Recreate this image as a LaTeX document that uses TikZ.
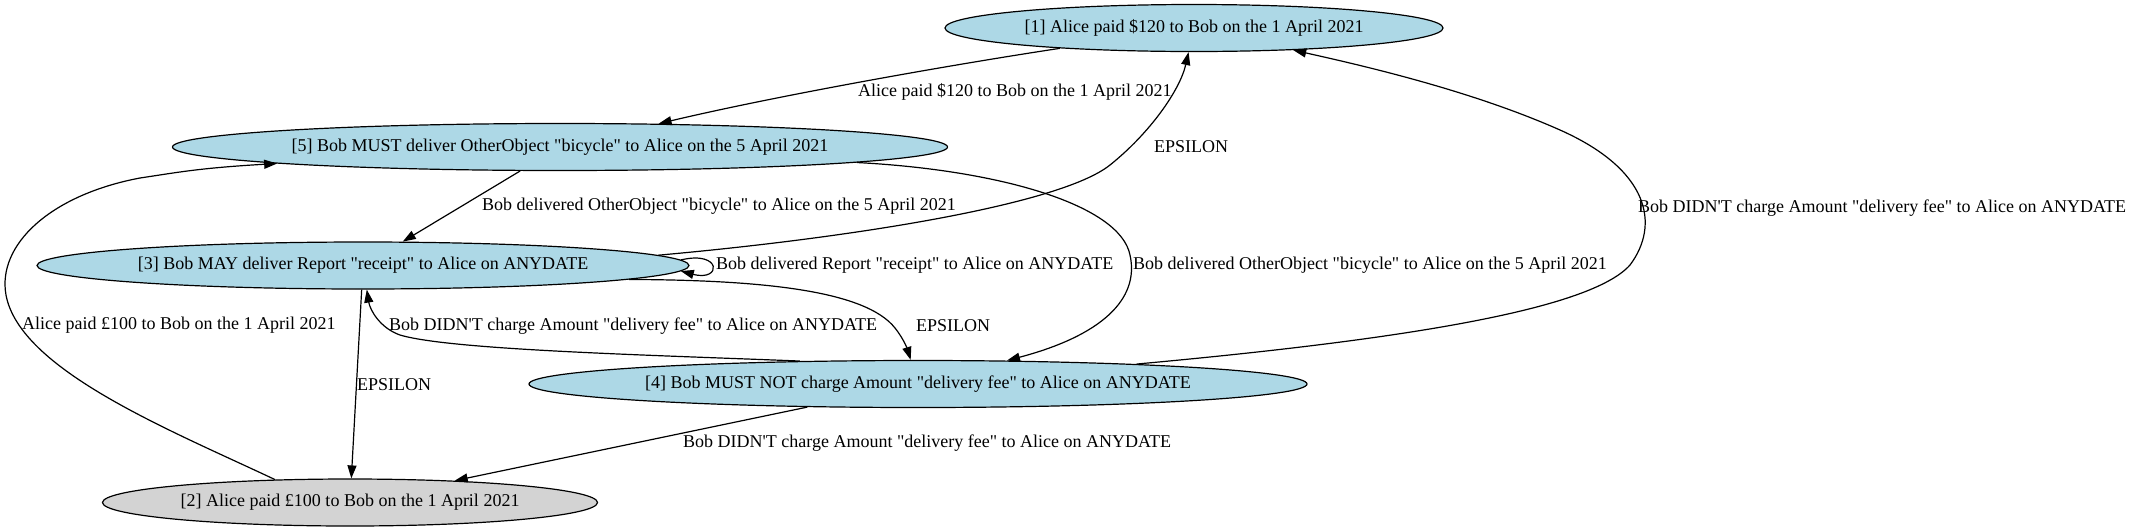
\documentclass[tikz,border=0pt]{standalone}
\usetikzlibrary{arrows.meta,shapes.geometric}
\font\gvf="Liberation Serif" at 18pt
\definecolor{nodeblue}{HTML}{ADD8E6}
\definecolor{nodegray}{HTML}{D3D3D3}
\begin{document}
\begin{tikzpicture}[x=1pt,y=-1pt,
  every node/.style={font=\gvf},
  state/.style={ellipse, draw=black, line width=1.2pt, inner sep=0pt, minimum height=47pt},
  lab/.style={anchor=west, inner sep=0pt},
  arr/.style={-{Triangle[length=13pt,width=9pt]}, line width=1.2pt}]
\useasboundingbox (0,0) rectangle (2134,531);
% nodes
\node[state, fill=nodeblue, minimum width=498pt] (N1) at (1194,28) {[1] Alice paid \$120 to Bob on the 1 April 2021};
\node[state, fill=nodeblue, minimum width=775pt] (N5) at (560,147) {[5] Bob MUST deliver OtherObject "bicycle" to Alice on the 5 April 2021};
\node[state, fill=nodeblue, minimum width=652pt] (N3) at (363,265.5) {[3] Bob MAY deliver Report "receipt" to Alice on ANYDATE};
\node[state, fill=nodeblue, minimum width=778pt] (N4) at (918,384) {[4] Bob MUST NOT charge Amount "delivery fee" to Alice on ANYDATE};
\node[state, fill=nodegray, minimum width=495pt] (N2) at (350,502.5) {[2] Alice paid £100 to Bob on the 1 April 2021};
% edge labels
\node[lab] (L1) at (858,92) {Alice paid \$120 to Bob on the 1 April 2021};
\node[lab] (L2) at (1154,147) {EPSILON};
\node[lab] (L3) at (482,206) {Bob delivered OtherObject "bicycle" to Alice on the 5 April 2021};
\node[lab] (L4) at (716,265) {Bob delivered Report "receipt" to Alice on ANYDATE};
\node[lab] (L5) at (1133,265) {Bob delivered OtherObject "bicycle" to Alice on the 5 April 2021};
\node[lab] (L6) at (1638,208) {Bob DIDN'T charge Amount "delivery fee" to Alice on ANYDATE};
\node[lab] (L7) at (389,326) {Bob DIDN'T charge Amount "delivery fee" to Alice on ANYDATE};
\node[lab] (L8) at (916,326) {EPSILON};
\node[lab] (L9) at (22,325) {Alice paid £100 to Bob on the 1 April 2021};
\node[lab] (L10) at (357,385) {EPSILON};
\node[lab] (L11) at (683,443) {Bob DIDN'T charge Amount "delivery fee" to Alice on ANYDATE};
% edges
\draw[arr] (N1) .. controls (950,65) and (780,95) .. (N5);
\draw[arr] (N3.2) .. controls (850,238) and (1060,205) .. (1110,165) .. controls (1150,133) and (1180,90) .. (N1);
\draw[arr] (N5) -- (N3);
\draw[arr] (N3.1) .. controls (722,250) and (722,282) .. (N3.-1);
\draw[arr] (N5) .. controls (1000,170) and (1120,205) .. (1130,255) .. controls (1140,300) and (1100,336) .. (N4);
\draw[arr] (N4) .. controls (1400,340) and (1590,310) .. (1630,265) .. controls (1660,225) and (1650,170) .. (1560,130) .. controls (1470,90) and (1360,65) .. (N1);
\draw[arr] (N4.169) .. controls (650,355) and (450,350) .. (400,335) .. controls (380,328) and (370,310) .. (N3);
\draw[arr] (N3) -- (N2);
\draw[arr] (N3.-3) .. controls (760,280) and (865,290) .. (895,328) .. controls (903,338) and (907,348) .. (N4);
\draw[arr] (N2.163) .. controls (170,430) and (20,370) .. (6,295) .. controls (-3,245) and (50,195) .. (140,178) .. controls (180,172) and (200,168) .. (N5);
\draw[arr] (N4) -- (N2);
\end{tikzpicture}
\end{document}
